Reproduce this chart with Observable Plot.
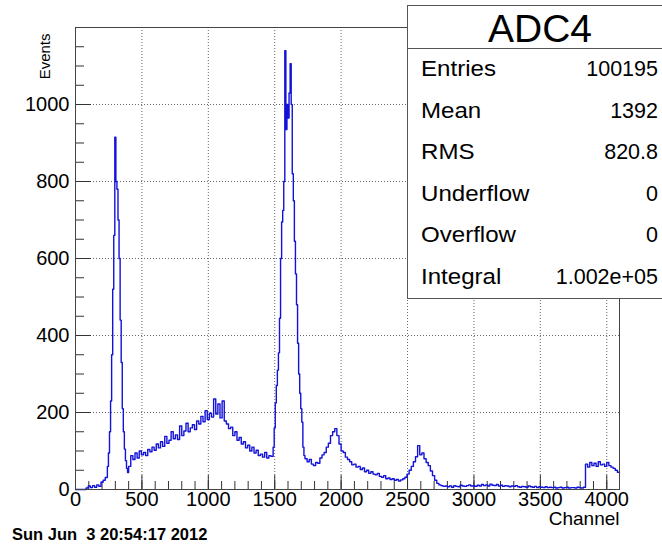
<!DOCTYPE html>
<html>
<head>
<meta charset="utf-8">
<script src="https://cdn.jsdelivr.net/npm/d3@7"></script>
<script src="https://cdn.jsdelivr.net/npm/@observablehq/plot@0.6"></script>
<style>
  body { margin: 0; background: #fff; }
  #wrap { position: relative; width: 662px; height: 544px; overflow: hidden; font-family: "Liberation Sans", Arial, sans-serif; background: #fff; }
  #stats { position: absolute; left: 407px; top: 5px; width: 266px; height: 294px; background: #fff; border: 1px solid #555; box-sizing: border-box; }
  #stats .title { height: 42px; line-height: 46px; text-align: center; font-size: 39px; border-bottom: 1px solid #555; }
  #stats .row { height: 41.6px; line-height: 41.6px; display: flex; justify-content: space-between; padding: 0 14px 0 13px; font-size: 21.5px; }
  #stats .row span:first-child { display: inline-block; transform: scaleX(1.12); transform-origin: left center; }
  #date { position: absolute; left: 12px; top: 525px; font-size: 16.5px; font-weight: bold; white-space: pre; }
</style>
</head>
<body>
<div id="wrap">
  <div id="chart"></div>
  <div id="stats"></div>
  <div id="date"></div>
</div>
<script>
// Histogram counts, ADC4 spectrum (bin low edge = segment start + i * segment step)
const countsA = [0,0,0,0,0,4,9,5,10,6,12,8,19,24,31,60];                       // 0..240, step 16
const countsB = [95,150,230,350,520,660,915,800,780,700,600,440,330,210,150,105,75,55,44,60]; // 248..400, step 8
const countsC = [88,78,95,82,100,90,96,88,104,98,
                 110,102,118,108,124,112,138,120,128,150,
                 132,142,130,165,140,152,172,150,160,168,
                 156,178,170,190,176,205,182,198,188,235,
                 196,222,186,230,178,170,158,162,140,150,
                 128,135,118,124,108,115,100,110,95,102,
                 88,92,84,96,82,88,86,110];                                      // 416..1488, step 16
const countsD = [160,225,270,310,355,445,600,695,725,800,1140,935,1000,965,1030,1106,1000,820,750,645,560,480,380,300,250,210,175,110,88]; // 1496..1720, step 8
const countsE = [80,72,78,66,62,70,68,82,90,96,
                 110,120,140,150,158,140,118,100,96,84,
                 78,72,64,66,58,60,52,56,46,50,
                 42,46,40,38,42,34,32,36,28,30,
                 26,28,24,26,22,25,28,32,40,50,
                 60,72,85,114,90,95,80,70,62,48,
                 36,24,16,12,10,8,9];                                            // 1728..2784, step 16
const countsF = [7,9,6,10,8,7,11,9,8,10,
                 12,9,10,8,11,9,13,10,12,9,
                 14,11,10,13,9,11,8,10,9,7,
                 9,8,10,7,6,8,7,6,9,7,
                 6,8,5,7,6,5,7,5,6,5,
                 6,4,5,6,4,5,6,4,5,5,
                 4,6,5,4,6];                                                     // 2800..3824, step 16
const countsG = [66,58,70,62,68,60,72,64,66,60,70,62,58,55,50,45];              // 3840..4080, step 16
const segmentStarts = [0, 248, 416, 1496, 1728, 2800, 3840];
const segmentSteps  = [16, 8, 16, 8, 16, 16, 16];
const segmentCounts = [countsA, countsB, countsC, countsD, countsE, countsF, countsG];
const channelMax = 4096;

const xMajor = [0,500,1000,1500,2000,2500,3000,3500,4000];
const xMinor = d3.range(0, 4001, 100);
const yMajor = [0,200,400,600,800,1000];
const yMinor = d3.range(0, 1151, 50);

const statsTitle = "ADC4";
const statsLabels = ["Entries","Mean","RMS","Underflow","Overflow","Integral"];
const statsValues = ["100195","1392","820.8","0","0","1.002e+05"];
const xLabel = "Channel";
const yLabel = "Events";
const dateText = "Sun Jun  3 20:54:17 2012";

// build histogram points
const hist = [];
segmentCounts.forEach((arr, s) => {
  arr.forEach((v, i) => hist.push({x: segmentStarts[s] + i * segmentSteps[s], y: v}));
});
hist.push({x: channelMax, y: hist[hist.length - 1].y});

const W = 662, H = 544, mL = 75, mR = 43, mT = 27, mB = 55;
const innerW = W - mL - mR, innerH = H - mT - mB;
const font = "'Liberation Sans', Arial, sans-serif";

const chart = Plot.plot({
  width: W, height: H,
  marginLeft: mL, marginRight: mR, marginTop: mT, marginBottom: mB,
  style: {fontFamily: font, fontSize: "20px", color: "#000", background: "#fff"},
  x: {domain: [0, channelMax], axis: null},
  y: {domain: [0, 1200], axis: null},
  marks: [
    Plot.ruleX(xMajor.slice(1), {x: d => d, stroke: "#666", strokeDasharray: "1,2"}),
    Plot.ruleY(yMajor.slice(1), {y: d => d, stroke: "#666", strokeDasharray: "1,2"}),
    Plot.ruleX(xMinor, {x: d => d, insetTop: innerH - 8, stroke: "#333"}),
    Plot.ruleX(xMajor, {x: d => d, insetTop: innerH - 14, stroke: "#333"}),
    Plot.ruleY(yMinor, {y: d => d, insetRight: innerW - 9, stroke: "#333"}),
    Plot.ruleY(yMajor, {y: d => d, insetRight: innerW - 16, stroke: "#333"}),
    Plot.line(hist, {x: "x", y: "y", curve: "step-after", stroke: "#1212d8", strokeWidth: 1.4}),
    Plot.frame({stroke: "#444"}),
    Plot.axisX(xMajor, {tickSize: 0, tickPadding: 2, tickFormat: d3.format("d"), label: null, fontSize: 20}),
    Plot.axisY(yMajor, {tickSize: 0, tickPadding: 6, tickFormat: d3.format("d"), label: null, fontSize: 20}),
    Plot.text([xLabel], {text: d => d, frameAnchor: "bottom-right", textAnchor: "end", dy: 35, fontSize: 19}),
    Plot.text([yLabel], {text: d => d, frameAnchor: "top-left", rotate: -90, textAnchor: "end", dx: -36, dy: 6, fontSize: 15})
  ]
});
document.getElementById("chart").appendChild(chart);

const stats = document.getElementById("stats");
const t = document.createElement("div");
t.className = "title"; t.textContent = statsTitle; stats.appendChild(t);
statsLabels.forEach((lab, i) => {
  const r = document.createElement("div"); r.className = "row";
  const a = document.createElement("span"); a.textContent = lab;
  const b = document.createElement("span"); b.textContent = statsValues[i];
  r.appendChild(a); r.appendChild(b); stats.appendChild(r);
});
document.getElementById("date").textContent = dateText;
</script>
</body>
</html>
